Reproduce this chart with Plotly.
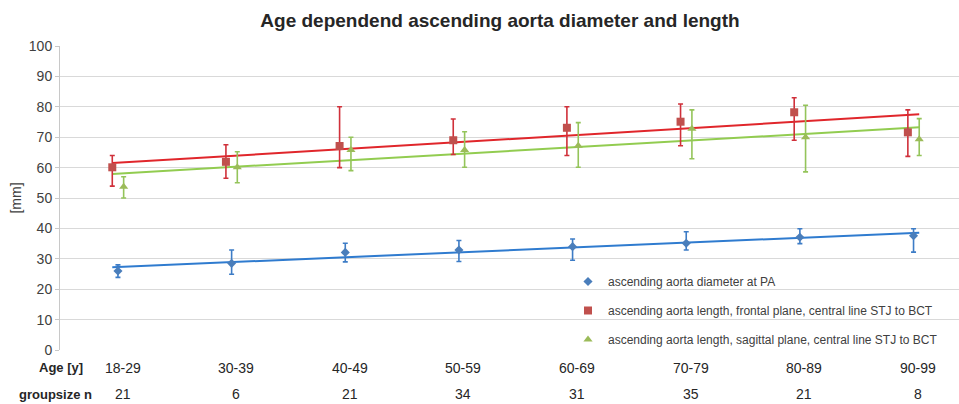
import numpy as np
import plotly.graph_objects as go

age_groups = ["18-29", "30-39", "40-49", "50-59", "60-69", "70-79", "80-89", "90-99"]
group_size = [21, 6, 21, 34, 31, 35, 21, 8]

diam_mean = [26.0, 28.5, 32.1, 32.9, 34.0, 35.1, 37.1, 37.6]
diam_hi = [28.0, 32.9, 35.1, 36.0, 36.5, 38.9, 39.9, 39.9]
diam_lo = [23.9, 24.9, 29.0, 29.1, 29.5, 32.9, 35.0, 32.2]

front_mean = [60.1, 61.9, 67.1, 69.0, 73.1, 75.1, 78.2, 71.6]
front_hi = [64.0, 67.5, 80.0, 76.0, 80.0, 80.9, 83.0, 79.0]
front_lo = [53.9, 56.5, 60.0, 64.3, 64.0, 67.2, 69.0, 63.7]

sag_mean = [53.7, 60.1, 65.8, 65.8, 67.2, 72.8, 70.0, 69.3]
sag_hi = [57.0, 65.2, 70.0, 71.8, 74.8, 79.0, 80.5, 76.1]
sag_lo = [50.0, 55.0, 59.0, 60.1, 60.1, 62.9, 58.6, 64.0]

names = [
    "ascending aorta diameter at PA",
    "ascending aorta length, frontal plane, central line STJ to BCT",
    "ascending aorta length, sagittal plane, central line STJ to BCT",
]

pos = np.arange(1, len(age_groups) + 1, dtype=float)

series = [
    dict(mean=diam_mean, hi=diam_hi, lo=diam_lo, off=0.0, symbol="diamond", size=7,
         mcolor="#4a7ebb", ecolor="#3d7cc6", lcolor="#2f7bcf"),
    dict(mean=front_mean, hi=front_hi, lo=front_lo, off=-0.05, symbol="square", size=8,
         mcolor="#c0504d", ecolor="#d0303a", lcolor="#e0262b"),
    dict(mean=sag_mean, hi=sag_hi, lo=sag_lo, off=0.05, symbol="triangle-up", size=8,
         mcolor="#9bbb59", ecolor="#94c45a", lcolor="#92cc50"),
]

fig = go.Figure()

# trendlines (linear least squares, as in the spreadsheet trendline)
for s in series:
    m, b = np.polyfit(pos, np.array(s["mean"]), 1)
    tx = np.array([pos[0] - 0.05, pos[-1] + 0.05])
    fig.add_trace(go.Scatter(x=tx, y=m * tx + b, mode="lines",
                             line=dict(color=s["lcolor"], width=2),
                             showlegend=False, hoverinfo="skip"))

for i, s in enumerate(series):
    mean = np.array(s["mean"])
    plus = np.array(s["hi"]) - mean
    minus = mean - np.array(s["lo"])
    fig.add_trace(go.Scatter(
        x=pos + s["off"], y=mean, mode="markers", name=names[i],
        legendgroup=f"g{i}",
        marker=dict(symbol=s["symbol"], size=s["size"], color=s["mcolor"]),
        error_y=dict(type="data", symmetric=False, array=plus, arrayminus=minus,
                     color=s["ecolor"], thickness=1.6, width=2.5),
    ))

# bottom table-like labels
for p, lab, n in zip(pos, age_groups, group_size):
    fig.add_annotation(x=p + 0.04, xref="x", y=-0.059, yref="paper", text=lab,
                       showarrow=False, xanchor="center", yanchor="middle",
                       font=dict(size=14, color="#262626"))
    fig.add_annotation(x=p + 0.04, xref="x", y=-0.145, yref="paper", text=str(n),
                       showarrow=False, xanchor="center", yanchor="middle",
                       font=dict(size=14, color="#262626"))
fig.add_annotation(x=0.001, xref="paper", y=-0.059, yref="paper", text="<b>Age [y]</b>",
                   showarrow=False, xanchor="center", yanchor="middle",
                   font=dict(size=13, color="#262626"))
fig.add_annotation(x=-0.0045, xref="paper", y=-0.145, yref="paper", text="<b>groupsize n</b>",
                   showarrow=False, xanchor="center", yanchor="middle",
                   font=dict(size=13, color="#262626"))

fig.update_layout(
    width=959, height=404,
    margin=dict(l=60, r=0, t=46, b=54),
    paper_bgcolor="white", plot_bgcolor="white",
    font=dict(family="Liberation Sans, Arial, sans-serif", color="#404040"),
    title=dict(text="<b>Age dependend ascending aorta diameter and length</b>",
               x=500 / 959, xanchor="center", y=1 - 20 / 404, yanchor="middle",
               font=dict(size=19, color="#262626")),
    xaxis=dict(range=[0.49, 8.40], showgrid=False, zeroline=False,
               showticklabels=False, showline=False, ticks=""),
    yaxis=dict(range=[0, 100], dtick=10, showgrid=True, gridcolor="#d9d9d9",
               gridwidth=1.3, zeroline=False, showline=True, linecolor="#c8c8c8",
               linewidth=1, ticks="outside", ticklen=4, tickcolor="#c8c8c8",
               tickfont=dict(size=14, color="#404040"),
               title=dict(text="[mm]", font=dict(size=14, color="#404040"), standoff=3)),
    legend=dict(x=(568 - 60) / 899, xanchor="left", y=(350 - 267) / 304, yanchor="top",
                bgcolor="rgba(0,0,0,0)", font=dict(size=12, color="#404040"),
                tracegroupgap=10, itemwidth=30),
    showlegend=True,
)

fig.write_html("out.html")
